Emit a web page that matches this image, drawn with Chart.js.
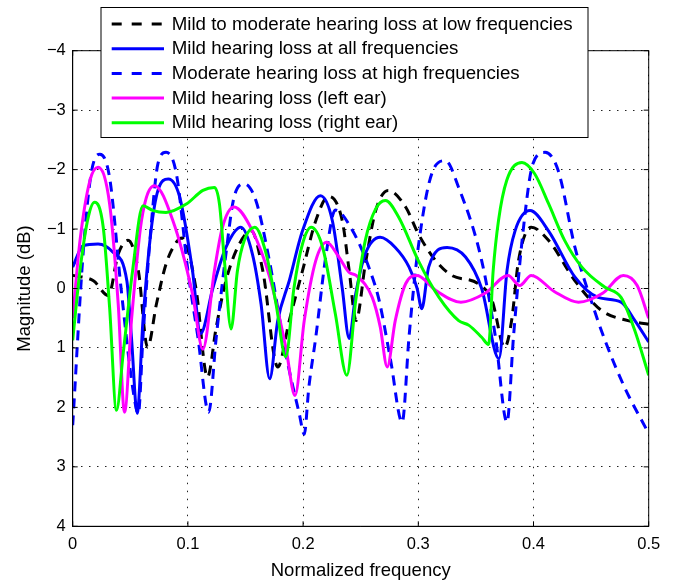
<!DOCTYPE html>
<html>
<head>
<meta charset="utf-8">
<script src="https://cdn.jsdelivr.net/npm/chart.js@4"></script>
<style>
  html, body { margin: 0; padding: 0; background: #fff; }
  #wrap { width: 675px; height: 583px; }
</style>
</head>
<body>
<div id="wrap"><canvas id="c" width="675" height="583"></canvas></div>
<script>
// ---- Data ----
const seriesLabels = [
  'Mild to moderate hearing loss at low frequencies',
  'Mild hearing loss at all frequencies',
  'Moderate hearing loss at high frequencies',
  'Mild hearing loss (left ear)',
  'Mild hearing loss (right ear)'
];

const xTickValues = [0, 0.1, 0.2, 0.3, 0.4, 0.5];
const xTickLabels = ['0', '0.1', '0.2', '0.3', '0.4', '0.5'];
const yTickValues = [-4, -3, -2, -1, 0, 1, 2, 3, 4];
const yTickLabels = ['\u22124', '\u22123', '\u22122', '\u22121', '0', '1', '2', '3', '4'];

const lowFreqX = [0, 0.018, 0.031, 0.0395, 0.048, 0.057, 0.065, 0.0727, 0.081, 0.090, 0.095, 0.107, 0.117, 0.1246, 0.133, 0.1447, 0.155, 0.165, 0.178, 0.188, 0.1995, 0.211, 0.222, 0.234, 0.240, 0.246, 0.254, 0.263, 0.274, 0.289, 0.300, 0.315, 0.329, 0.352, 0.364, 0.375, 0.381, 0.387, 0.398, 0.413, 0.436, 0.459, 0.482, 0.5];
const lowFreqY = [-0.22, -0.13, 0.12, -0.58, -0.81, -0.3, 0.99, 0.26, -0.41, -0.78, -0.85, 0.0, 1.49, 0.65, -0.13, -0.75, -0.97, -0.3, 1.32, 0.54, -0.3, -1.14, -1.55, -1.14, -0.3, 0.54, -0.41, -1.31, -1.65, -1.37, -0.92, -0.47, -0.22, -0.08, 0.2, 0.99, 0.54, -0.47, -1.03, -0.81, -0.13, 0.37, 0.54, 0.6];

const allFreqX = [0, 0.009, 0.022, 0.035, 0.047, 0.051, 0.056, 0.061, 0.068, 0.074, 0.083, 0.093, 0.104, 0.111, 0.1216, 0.133, 0.146, 0.156, 0.1635, 0.171, 0.178, 0.188, 0.1995, 0.215, 0.2254, 0.234, 0.240, 0.2457, 0.254, 0.267, 0.280, 0.292, 0.299, 0.303, 0.309, 0.325, 0.341, 0.355, 0.370, 0.377, 0.384, 0.397, 0.413, 0.436, 0.456, 0.476, 0.488, 0.5];
const allFreqY = [-0.36, -0.72, -0.75, -0.61, -0.13, 0.82, 2.1, 0.54, -0.97, -1.65, -1.84, -1.53, -0.3, 0.76, 0.0, -0.69, -1.03, -0.58, 0.26, 1.52, 0.54, -0.13, -0.97, -1.56, -1.14, 0.0, 0.84, 0.09, -0.58, -0.86, -0.69, -0.36, 0.0, 0.34, -0.36, -0.69, -0.53, 0.0, 1.18, -0.3, -0.97, -1.31, -0.97, -0.19, 0.15, 0.23, 0.54, 0.9];

const highFreqX = [0, 0.009, 0.016, 0.0236, 0.032, 0.042, 0.052, 0.057, 0.061, 0.068, 0.074, 0.081, 0.090, 0.100, 0.1087, 0.118, 0.1246, 0.133, 0.140, 0.149, 0.159, 0.1707, 0.185, 0.1966, 0.201, 0.205, 0.211, 0.220, 0.228, 0.243, 0.257, 0.266, 0.276, 0.286, 0.292, 0.300, 0.312, 0.3235, 0.335, 0.355, 0.367, 0.377, 0.3826, 0.391, 0.3995, 0.410, 0.4215, 0.436, 0.450, 0.462, 0.479, 0.5];
const highFreqY = [2.3, -0.58, -1.93, -2.26, -1.87, 0.0, 1.66, 2.1, 0.82, -1.03, -2.1, -2.29, -1.93, -0.3, 0.82, 2.08, 0.82, -0.58, -1.53, -1.76, -1.48, -0.47, 1.1, 2.1, 2.45, 1.66, 0.82, -0.58, -1.32, -0.97, -0.36, 0.2, 1.21, 2.25, 0.8, -0.7, -1.95, -2.15, -1.7, -0.47, 0.82, 2.25, 0.82, -0.97, -2.1, -2.29, -1.98, -0.69, 0.2, 0.87, 1.66, 2.44];

const leftEarX = [0, 0.0063, 0.015, 0.022, 0.032, 0.0395, 0.045, 0.051, 0.0597, 0.071, 0.087, 0.104, 0.113, 0.123, 0.130, 0.140, 0.156, 0.171, 0.185, 0.193, 0.201, 0.211, 0.2205, 0.231, 0.240, 0.246, 0.260, 0.267, 0.273, 0.280, 0.289, 0.299, 0.315, 0.337, 0.358, 0.378, 0.388, 0.398, 0.418, 0.439, 0.460, 0.478, 0.490, 0.5];
const leftEarY = [0.5, -0.8, -1.82, -2.04, -1.43, 0.26, 2.08, 0.54, -1.14, -1.73, -1.14, 0.09, 1.02, -0.3, -1.03, -1.37, -0.97, -0.19, 0.99, 1.8, 0.54, -0.47, -0.78, -0.53, -0.27, -0.22, 0.15, 0.65, 1.32, 0.54, -0.08, -0.22, 0.03, 0.23, 0.08, -0.22, -0.05, -0.22, 0.05, 0.23, 0.08, -0.22, -0.05, 0.5];

const rightEarX = [0, 0.0063, 0.0135, 0.019, 0.0265, 0.032, 0.038, 0.0438, 0.052, 0.061, 0.0697, 0.081, 0.0986, 0.113, 0.123, 0.1274, 0.1317, 0.1375, 0.143, 0.149, 0.158, 0.168, 0.1765, 0.185, 0.192, 0.1995, 0.207, 0.217, 0.228, 0.238, 0.2457, 0.254, 0.263, 0.2715, 0.283, 0.300, 0.318, 0.335, 0.344, 0.355, 0.361, 0.365, 0.3696, 0.3768, 0.390, 0.401, 0.413, 0.427, 0.442, 0.462, 0.476, 0.488, 0.5];
const rightEarY = [0.87, -0.3, -1.2, -1.45, -1.03, 0.31, 2.05, 1.1, -0.3, -1.39, -1.31, -1.28, -1.42, -1.65, -1.70, -1.42, -0.47, 0.68, -0.3, -0.81, -1.03, -0.58, 0.26, 1.15, 0.0, -0.75, -1.03, -0.69, 0.43, 1.46, 0.2, -0.81, -1.34, -1.48, -1.2, -0.47, 0.15, 0.54, 0.62, 0.82, 0.94, -0.3, -1.14, -1.82, -2.12, -1.93, -1.43, -0.81, -0.36, -0.02, 0.15, 0.71, 1.46];

// ---- Styles ----
const FONT = '"Liberation Sans", Arial, Helvetica, sans-serif';
const GRID_DASH = [1.5, 6.5];
const seriesStyle = [
  { color: '#000000', dash: [10, 7] },
  { color: '#0000ff', dash: [] },
  { color: '#0000ff', dash: [10, 7] },
  { color: '#ff00ff', dash: [] },
  { color: '#00ff00', dash: [] }
];
const seriesX = [lowFreqX, allFreqX, highFreqX, leftEarX, rightEarX];
const seriesY = [lowFreqY, allFreqY, highFreqY, leftEarY, rightEarY];

const pairs = (xs, ys) => xs.map((x, i) => ({ x: x, y: ys[i] }));

const datasets = seriesLabels.map((label, i) => ({
  label: label,
  data: pairs(seriesX[i], seriesY[i]),
  borderColor: seriesStyle[i].color,
  borderDash: seriesStyle[i].dash,
  borderWidth: 3,
  pointRadius: 0,
  fill: false,
  cubicInterpolationMode: 'monotone',
  order: seriesLabels.length - i
}));

const frameAndLegend = {
  id: 'frameAndLegend',
  afterDraw(chart) {
    const { ctx, chartArea: a, scales } = chart;
    const xs = scales.x, ys = scales.y;
    ctx.save();
    ctx.strokeStyle = '#000';
    ctx.lineWidth = 1;
    ctx.setLineDash([]);
    // inward tick marks
    ctx.beginPath();
    xTickValues.forEach(v => {
      const px = xs.getPixelForValue(v);
      ctx.moveTo(px, a.bottom); ctx.lineTo(px, a.bottom - 5);
      ctx.moveTo(px, a.top); ctx.lineTo(px, a.top + 5);
    });
    yTickValues.forEach(v => {
      const py = ys.getPixelForValue(v);
      ctx.moveTo(a.left, py); ctx.lineTo(a.left + 5, py);
      ctx.moveTo(a.right, py); ctx.lineTo(a.right - 5, py);
    });
    ctx.stroke();
    ctx.strokeRect(a.left, a.top, a.right - a.left, a.bottom - a.top);

    // legend box
    const bx = 101, by = 7.5, bw = 487, bh = 130;
    ctx.fillStyle = '#fff';
    ctx.fillRect(bx, by, bw, bh);
    ctx.strokeRect(bx, by, bw, bh);
    ctx.font = '18.7px ' + FONT;
    ctx.textBaseline = 'middle';
    ctx.textAlign = 'left';
    chart.data.datasets.forEach((ds, i) => {
      const ry = 24 + i * 24.7;
      ctx.beginPath();
      ctx.lineWidth = 3;
      ctx.strokeStyle = ds.borderColor;
      ctx.setLineDash(ds.borderDash.length ? [10, 10] : []);
      ctx.moveTo(111.7, ry);
      ctx.lineTo(164, ry);
      ctx.stroke();
      ctx.setLineDash([]);
      ctx.fillStyle = '#000';
      ctx.fillText(ds.label, 171.7, ry + 0.5);
    });
    ctx.restore();
  }
};

new Chart(document.getElementById('c'), {
  type: 'line',
  data: { datasets: datasets },
  options: {
    responsive: false,
    animation: false,
    devicePixelRatio: 1,
    layout: { padding: { top: 50.7, right: 26.3, bottom: 0, left: 0 } },
    plugins: { legend: { display: false }, tooltip: { enabled: false } },
    scales: {
      x: {
        type: 'linear',
        min: 0, max: 0.5,
        afterFit: s => { s.height = 56.7; },
        afterBuildTicks: s => { s.ticks = xTickValues.map(v => ({ value: v })); },
        ticks: {
          padding: 8,
          color: '#000',
          font: { family: FONT, size: 16.5 },
          maxRotation: 0,
          callback: (v) => { const i = xTickValues.findIndex(t => Math.abs(t - v) < 1e-9); return i >= 0 ? xTickLabels[i] : ''; }
        },
        grid: { color: '#222', lineWidth: 1, drawTicks: false },
        border: { display: true, color: '#000', dash: GRID_DASH },
        title: { display: true, text: 'Normalized frequency', color: '#000', font: { family: FONT, size: 18.5 }, padding: { top: 0, bottom: 1 } }
      },
      y: {
        type: 'linear',
        min: -4, max: 4,
        reverse: true,
        afterFit: s => { s.width = 72.7; },
        afterBuildTicks: s => { s.ticks = yTickValues.map(v => ({ value: v })); },
        ticks: {
          padding: 7,
          color: '#000',
          font: { family: FONT, size: 16.5 },
          callback: (v) => { const i = yTickValues.indexOf(v); return i >= 0 ? yTickLabels[i] : ''; }
        },
        grid: { color: '#222', lineWidth: 1, drawTicks: false },
        border: { display: true, color: '#000', dash: GRID_DASH },
        title: { display: true, text: 'Magnitude (dB)', color: '#000', font: { family: FONT, size: 18.5 }, padding: { top: 14, bottom: 0 } }
      }
    }
  },
  plugins: [frameAndLegend]
});
</script>
</body>
</html>
